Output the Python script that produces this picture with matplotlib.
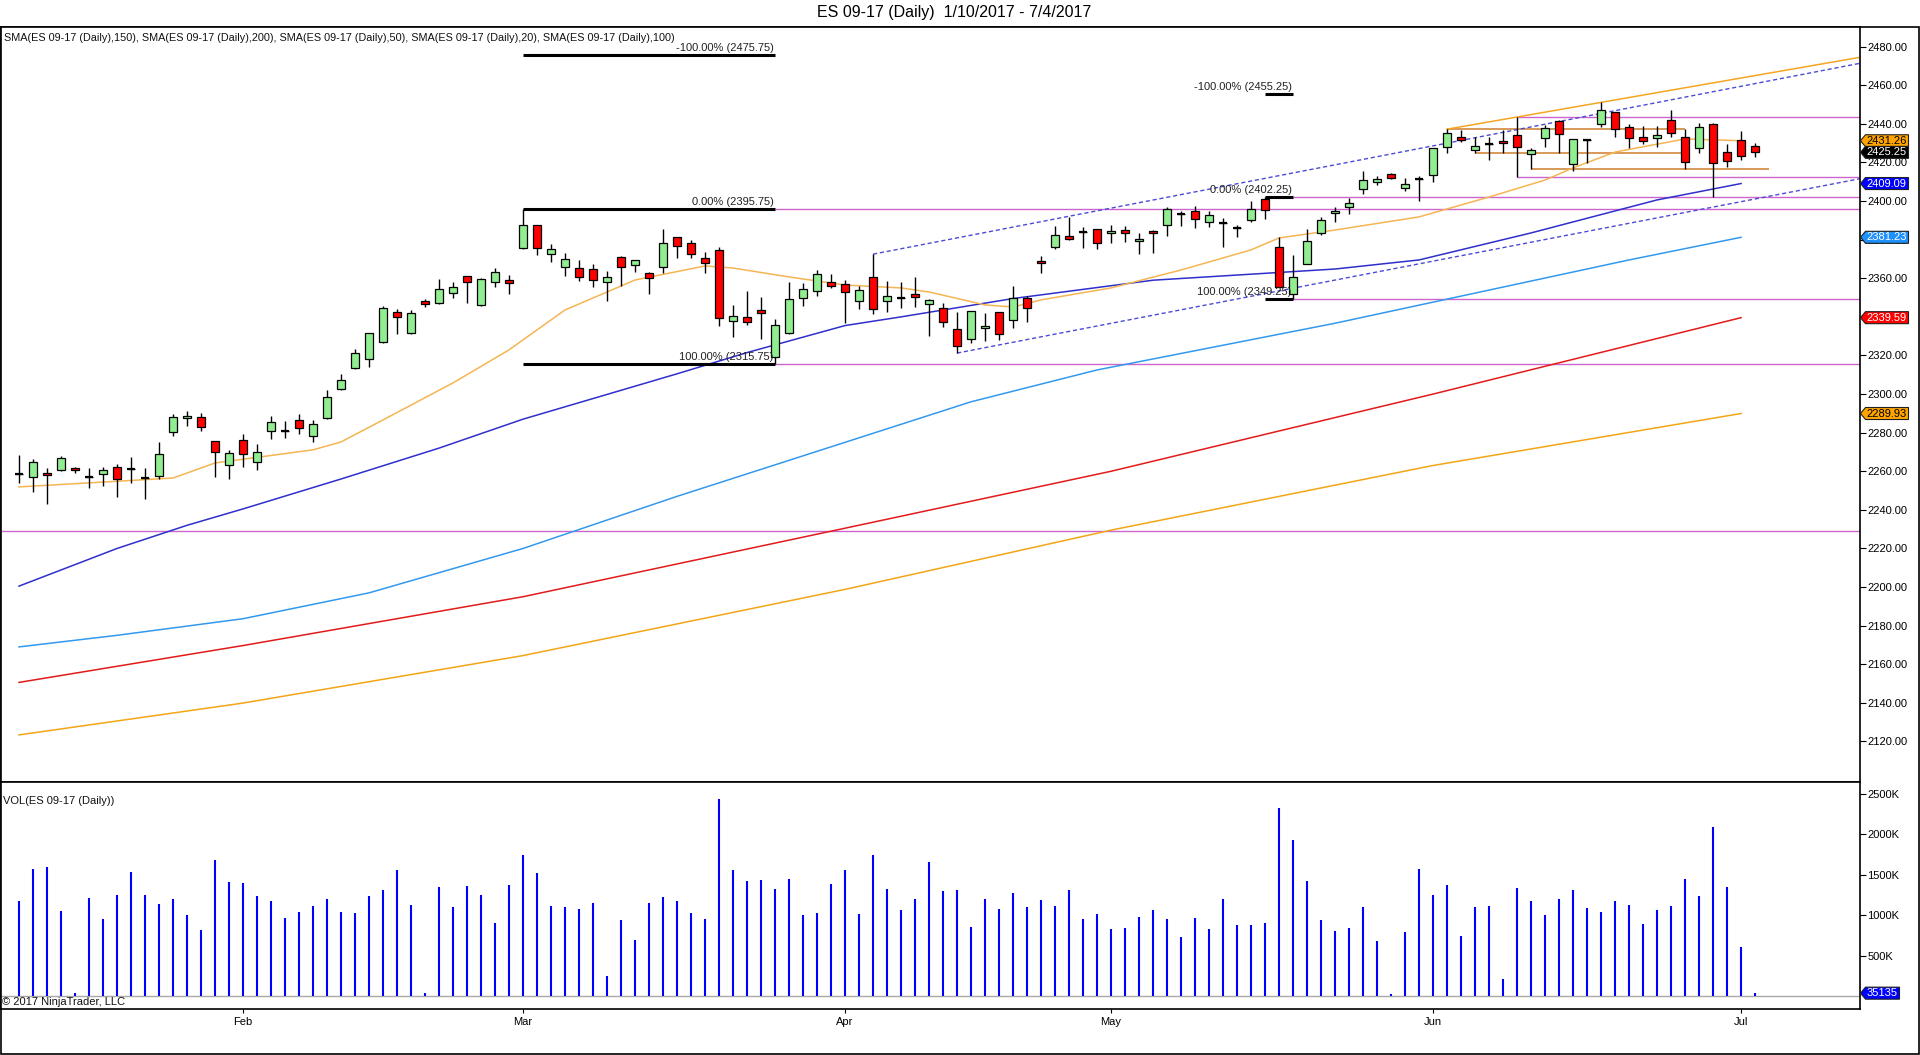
import matplotlib
matplotlib.use('Agg')
import matplotlib.pyplot as plt
import matplotlib.transforms as mtransforms
from matplotlib.patches import Polygon, Rectangle
from matplotlib.ticker import FixedLocator, FuncFormatter
import numpy as np

# ---------------- data ----------------
opens = [2258.75, 2257.0, 2259.0, 2260.75, 2261.75, 2257.0, 2258.5, 2262.25, 2261.25, 2256.5,
         2257.5, 2280.5, 2287.5, 2288.0, 2275.75, 2263.25, 2276.25, 2264.75, 2281.0, 2281.0,
         2286.5, 2278.25, 2287.5, 2302.75, 2313.5, 2318.25, 2327.0, 2342.5, 2331.75, 2348.25,
         2347.25, 2352.5, 2361.25, 2346.25, 2358.0, 2359.0, 2375.75, 2387.5, 2372.5, 2366.0,
         2365.25, 2364.75, 2358.0, 2371.0, 2367.0, 2362.75, 2366.0, 2381.5, 2378.25, 2370.5,
         2374.75, 2338.0, 2340.0, 2343.5, 2319.25, 2331.75, 2349.75, 2353.5, 2358.0, 2357.0,
         2348.25, 2360.75, 2348.25, 2349.75, 2352.0, 2346.75, 2344.5, 2333.75, 2328.5, 2334.25,
         2342.5, 2338.5, 2349.75, 2369.0, 2376.25, 2382.0, 2384.0, 2385.5, 2383.5, 2385.0,
         2379.25, 2384.5, 2387.5, 2393.25, 2395.0, 2389.25, 2388.75, 2386.0, 2390.25, 2401.0,
         2376.25, 2352.0, 2367.5, 2383.5, 2393.75, 2397.0, 2406.25, 2410.0, 2414.0, 2406.75,
         2411.5, 2413.5, 2428.0, 2433.25, 2426.5, 2429.5, 2431.0, 2434.25, 2424.5, 2432.75,
         2441.5, 2419.25, 2431.75, 2440.0, 2446.25, 2438.5, 2433.25, 2432.75, 2442.0, 2433.25,
         2427.5, 2440.0, 2425.5, 2431.75, 2428.5]
highs = [2268.5, 2266.5, 2261.75, 2268.0, 2262.25, 2261.75, 2262.25, 2263.75, 2267.5, 2261.75,
         2275.25, 2289.75, 2291.25, 2290.25, 2275.75, 2271.0, 2279.25, 2274.0, 2288.75, 2286.0,
         2289.75, 2286.5, 2302.0, 2310.5, 2323.5, 2331.75, 2345.75, 2344.0, 2343.5, 2349.25,
         2359.5, 2358.0, 2361.25, 2360.25, 2365.25, 2361.75, 2395.75, 2387.5, 2377.75, 2373.0,
         2369.5, 2367.5, 2363.75, 2371.5, 2369.5, 2363.25, 2385.5, 2381.5, 2380.0, 2373.5,
         2376.25, 2346.25, 2353.5, 2350.25, 2339.0, 2358.0, 2357.5, 2364.25, 2362.0, 2359.0,
         2356.0, 2372.5, 2358.5, 2358.0, 2360.75, 2349.25, 2347.25, 2342.5, 2343.0, 2342.0,
         2342.5, 2356.0, 2350.75, 2371.5, 2387.0, 2391.75, 2386.5, 2385.5, 2387.5, 2387.0,
         2383.5, 2385.0, 2397.0, 2395.0, 2397.5, 2395.0, 2391.25, 2387.5, 2400.0, 2402.25,
         2381.5, 2372.0, 2385.5, 2391.75, 2397.0, 2401.5, 2415.5, 2413.0, 2414.5, 2412.0,
         2413.0, 2427.5, 2437.25, 2436.75, 2433.25, 2433.25, 2436.75, 2443.5, 2427.5, 2439.5,
         2442.0, 2432.25, 2432.25, 2451.5, 2446.25, 2440.0, 2439.0, 2439.0, 2447.25, 2437.5,
         2440.5, 2440.5, 2429.5, 2436.25, 2430.0]
lows = [2254.0, 2249.25, 2243.0, 2260.25, 2259.0, 2251.5, 2252.5, 2246.75, 2254.0, 2245.75,
        2256.0, 2278.25, 2283.5, 2281.0, 2257.0, 2256.0, 2262.25, 2260.75, 2276.75, 2277.25,
        2279.25, 2275.25, 2287.0, 2302.0, 2313.0, 2314.0, 2326.5, 2331.25, 2331.25, 2345.0,
        2346.75, 2349.75, 2347.25, 2345.75, 2355.5, 2352.0, 2375.25, 2372.0, 2368.5, 2361.25,
        2358.5, 2355.5, 2348.25, 2356.0, 2363.25, 2352.0, 2362.75, 2370.5, 2370.5, 2362.75,
        2335.25, 2329.5, 2335.75, 2328.5, 2315.75, 2331.25, 2345.75, 2350.75, 2355.0, 2337.0,
        2344.0, 2341.5, 2342.5, 2344.5, 2345.0, 2330.0, 2334.75, 2321.25, 2326.5, 2327.5,
        2328.0, 2334.25, 2337.5, 2362.75, 2375.25, 2380.0, 2375.75, 2375.25, 2378.25, 2378.75,
        2372.5, 2373.0, 2382.0, 2387.0, 2386.0, 2386.5, 2376.25, 2381.5, 2389.25, 2390.75,
        2355.5, 2349.25, 2367.25, 2382.5, 2389.25, 2393.25, 2403.75, 2408.5, 2411.5, 2405.25,
        2400.0, 2410.0, 2424.75, 2430.5, 2424.75, 2421.25, 2424.75, 2412.25, 2416.5, 2428.0,
        2424.75, 2415.5, 2419.75, 2438.5, 2433.25, 2427.5, 2429.5, 2428.0, 2433.25, 2416.5,
        2425.0, 2402.0, 2417.75, 2421.25, 2423.0]
closes = [2258.75, 2264.75, 2258.0, 2267.0, 2260.75, 2257.0, 2260.75, 2256.0, 2261.25, 2256.5,
          2269.0, 2288.0, 2288.75, 2283.0, 2270.0, 2269.5, 2269.0, 2270.0, 2285.5, 2281.0,
          2282.5, 2284.5, 2298.5, 2307.25, 2321.25, 2331.75, 2344.5, 2340.0, 2342.0, 2346.75,
          2354.5, 2355.5, 2358.0, 2359.75, 2363.25, 2357.5, 2387.5, 2375.75, 2375.25, 2370.0,
          2360.75, 2359.0, 2360.75, 2366.0, 2369.5, 2360.25, 2378.25, 2376.75, 2372.5, 2368.0,
          2339.5, 2340.5, 2337.5, 2342.0, 2335.75, 2349.25, 2354.5, 2362.25, 2356.0, 2353.0,
          2354.0, 2344.0, 2351.0, 2349.75, 2350.25, 2348.75, 2337.5, 2325.0, 2343.0, 2335.25,
          2331.25, 2349.75, 2344.5, 2368.0, 2382.5, 2380.5, 2384.0, 2378.25, 2384.5, 2383.5,
          2380.5, 2383.5, 2396.0, 2393.25, 2390.75, 2392.75, 2388.75, 2386.0, 2396.0, 2395.5,
          2355.5, 2360.75, 2379.25, 2390.25, 2395.0, 2399.0, 2411.0, 2411.5, 2412.0, 2409.0,
          2411.5, 2427.5, 2435.25, 2431.75, 2428.5, 2429.5, 2430.0, 2428.0, 2426.5, 2438.0,
          2434.75, 2432.25, 2431.75, 2447.25, 2437.5, 2432.75, 2431.0, 2434.25, 2435.25, 2420.25,
          2438.5, 2419.75, 2420.75, 2423.5, 2425.25]
volume_k = [1175, 1570, 1595, 1051, 37, 1212, 952, 1249, 1533, 1249,
            1138, 1200, 1002, 816, 1682, 1410, 1397, 1237, 1175, 965,
            1039, 1113, 1200, 1039, 1026, 1237, 1311, 1558, 1125, 37,
            1348, 1101, 1360, 1249, 903, 1373, 1744, 1521, 1113, 1101,
            1076, 1150, 247, 940, 692, 1150, 1224, 1175, 1026, 952,
            2436, 1558, 1422, 1434, 1323, 1447, 1002, 1026, 1385, 1558,
            1014, 1744, 1323, 1063, 1200, 1657, 1298, 1311, 853, 1200,
            1076, 1274, 1101, 1187, 1113, 1311, 952, 1014, 829, 841,
            977, 1063, 952, 730, 965, 829, 1200, 878, 878, 903,
            2325, 1929, 1422, 940, 804, 841, 1101, 680, 25, 791,
            1570, 1249, 1373, 742, 1101, 1113, 210, 1336, 1175, 1002,
            1200, 1311, 1088, 1039, 1175, 1125, 890, 1063, 1113, 1447,
            1237, 2090, 1348, 606, 35.135]

month_labels = ['Feb', 'Mar', 'Apr', 'May', 'Jun', 'Jul']
month_idx = [16, 36, 59, 78, 101, 123]

sma20_idx = [0, 11, 14, 21, 23, 26, 31, 35, 39, 44, 49, 51, 55, 59, 63, 65, 69, 71, 73, 78,
             83, 88, 90, 94, 100, 105, 109, 111, 114, 119, 123]
sma20_val = [2251.9, 2256.5, 2264.3, 2271.1, 2275.2, 2286.6, 2305.8, 2322.9, 2343.6, 2359.1,
             2366.4, 2365.3, 2360.7, 2356.5, 2355.0, 2352.9, 2346.2, 2345.1, 2348.8, 2355.0,
             2364.3, 2374.7, 2380.9, 2385.0, 2391.8, 2402.1, 2410.9, 2417.2, 2425.4, 2432.2, 2431.26]
sma50_idx = [0, 7, 12, 16, 23, 30, 36, 47, 52, 59, 63, 71, 81, 94, 100, 108, 117, 123]
sma50_val = [2200.5, 2220.0, 2232.0, 2240.5, 2256.0, 2272.0, 2287.0, 2310.5, 2321.5, 2335.5,
             2340.0, 2349.5, 2359.0, 2364.8, 2369.5, 2383.5, 2400.6, 2409.09]
sma100_idx = [0, 7, 16, 25, 36, 47, 59, 68, 77, 94, 115, 123]
sma100_val = [2169.0, 2175.0, 2183.6, 2197.0, 2220.0, 2247.0, 2275.0, 2296.0, 2312.5, 2336.7,
              2369.5, 2381.23]
sma150_idx = [0, 16, 36, 59, 78, 101, 123]
sma150_val = [2150.6, 2169.7, 2195.0, 2230.5, 2260.0, 2300.0, 2339.59]
sma200_idx = [0, 16, 36, 59, 78, 101, 123]
sma200_val = [2123.4, 2139.9, 2164.5, 2198.8, 2229.5, 2263.0, 2289.93]

# Fibonacci retracements (start bar, end bar, -100%, 0%, 100%)
fib_start = [36, 89]
fib_end = [54, 91]
fib_m100 = [2475.75, 2455.25]
fib_0 = [2395.75, 2402.25]
fib_100 = [2315.75, 2349.25]

# pink extension lines (start bar, price)
pink_start = [54, 54, 91, 91, 107, 107, -1.3]
pink_price = [2395.75, 2315.75, 2402.25, 2349.25, 2443.5, 2412.25, 2229.25]

# orange horizontal lines
orng_start = [102, 104, 108]
orng_end = [119, 119, 125]
orng_price = [2437.25, 2424.75, 2416.5]

# trend lines
trend_x = [102, 131.5]
trend_y = [2437.25, 2474.5]
chan_up_x = [61, 131.5]
chan_up_y = [2372.5, 2471.4]
chan_lo_x = [67, 131.5]
chan_lo_y = [2321.25, 2411.6]

price_ticks = list(range(2120, 2481, 20))
vol_ticks = [500, 1000, 1500, 2000, 2500]

box_vals = [2431.26, 2425.25, 2409.09, 2381.23, 2339.59, 2289.93]
box_fc = ['#FFA500', '#000000', '#0000FF', '#1E90FF', '#FF0000', '#FFA500']
box_tc = ['black', 'white', 'white', 'white', 'white', 'black']
vol_last_k = 35.135
vol_last_label = '35135'

legend_text = ('SMA(ES 09-17 (Daily),150), SMA(ES 09-17 (Daily),200), SMA(ES 09-17 (Daily),50), '
               'SMA(ES 09-17 (Daily),20), SMA(ES 09-17 (Daily),100)')
title_text = 'ES 09-17 (Daily)  1/10/2017 - 7/4/2017'

# ---------------- layout ----------------
plt.rcParams['font.family'] = ['Liberation Sans', 'DejaVu Sans']
W, H = 1920, 1055
fig = plt.figure(figsize=(W / 100, H / 100), dpi=100)
fig.patch.set_facecolor('white')


def fx(px):
    return px / W


def fy(py):
    return 1 - py / H


XL, XR = -1.286, 131.46
PY0, PY1 = 2099.0, 2490.2
VY0, VY1 = -160.9, 2648.5

ax = fig.add_axes([fx(1), fy(782), fx(1859.5) - fx(1), fy(27) - fy(782)])
axv = fig.add_axes([fx(1), fy(1009), fx(1859.5) - fx(1), fy(782) - fy(1009)])
for a in (ax, axv):
    a.set_facecolor('white')
    for s in a.spines.values():
        s.set_color('black')
        s.set_linewidth(1.2)

# ---------------- candles ----------------
n = len(opens)
idx = np.arange(n)
o = np.array(opens)
hi = np.array(highs)
lo = np.array(lows)
c = np.array(closes)
up = c >= o
ax.vlines(idx, lo, hi, colors='black', linewidth=1.0, zorder=4)
ax.bar(idx, np.abs(c - o), bottom=np.minimum(o, c), width=0.57,
       color=np.where(up, '#90EE90', '#FF0000'), edgecolor='black', linewidth=0.9, zorder=5)
doji = np.abs(c - o) < 0.01
ax.hlines(o[doji], idx[doji] - 0.29, idx[doji] + 0.29, colors='black', linewidth=1.6, zorder=5)

# ---------------- SMAs ----------------
ax.plot(sma200_idx, sma200_val, color='#F2A516', lw=1.1, zorder=3)
ax.plot(sma150_idx, sma150_val, color='#E31A1A', lw=1.1, zorder=3)
ax.plot(sma100_idx, sma100_val, color='#3399EE', lw=1.1, zorder=3)
ax.plot(sma50_idx, sma50_val, color='#2F2FCC', lw=1.1, zorder=3)
ax.plot(sma20_idx, sma20_val, color='#F5B553', lw=1.1, zorder=3)

# ---------------- drawings ----------------
ax.hlines(pink_price, pink_start, XR, colors='#CC66CC', linewidth=1.0, zorder=2)
ax.hlines(orng_price, orng_start, orng_end, colors='#D2883C', linewidth=1.2, zorder=2)
ax.plot(trend_x, trend_y, color='#F5A623', lw=1.1, zorder=2)
ax.plot(chan_up_x, chan_up_y, color='#4B4BD6', lw=1.0, ls=(0, (3, 2)), zorder=2)
ax.plot(chan_lo_x, chan_lo_y, color='#4B4BD6', lw=1.0, ls=(0, (3, 2)), zorder=2)

for s, e, m100, z, h100 in zip(fib_start, fib_end, fib_m100, fib_0, fib_100):
    ax.hlines([m100, z, h100], s, e, colors='black', linewidth=2.2, zorder=6)
    for pct, lev in (('-100.00%', m100), ('0.00%', z), ('100.00%', h100)):
        ax.annotate(f'{pct} ({lev:.2f})', xy=(e, lev), xytext=(-1, 1.5),
                    textcoords='offset points', ha='right', va='bottom',
                    fontsize=8, color='#222222', zorder=7)

# ---------------- volume ----------------
axv.axhline(0, color='#A8A8A8', lw=1.0, zorder=1)
axv.vlines(idx, 0, volume_k, colors='#0000FF', linewidth=1.5, zorder=3)

# ---------------- axes ----------------
ax.set_xlim(XL, XR)
axv.set_xlim(XL, XR)
ax.set_ylim(PY0, PY1)
axv.set_ylim(VY0, VY1)

ax.yaxis.tick_right()
ax.yaxis.set_major_locator(FixedLocator(price_ticks))
ax.yaxis.set_major_formatter(FuncFormatter(lambda v, p: f'{v:.2f}'))
ax.tick_params(axis='y', direction='out', length=4.3, width=0.8, pad=1.5, labelsize=8, colors='black')
ax.tick_params(axis='x', bottom=False, labelbottom=False)

axv.yaxis.tick_right()
axv.yaxis.set_major_locator(FixedLocator(vol_ticks))
axv.yaxis.set_major_formatter(FuncFormatter(lambda v, p: f'{int(v)}K'))
axv.tick_params(axis='y', direction='out', length=4.3, width=0.8, pad=1.5, labelsize=8)
axv.xaxis.set_major_locator(FixedLocator(month_idx))
axv.set_xticklabels(month_labels)
axv.tick_params(axis='x', direction='out', length=3, width=0.8, pad=2.5, labelsize=8)

# ---------------- value boxes ----------------
bt = mtransforms.blended_transform_factory(fig.transFigure, ax.transData)
half = 6 / 1.930
for v, fc, tc in zip(box_vals, box_fc, box_tc):
    poly = Polygon([(fx(1860.5), v), (fx(1865.5), v + half), (fx(1908.5), v + half),
                    (fx(1908.5), v - half), (fx(1865.5), v - half)], closed=True,
                   transform=bt, facecolor=fc, edgecolor='#202020', lw=0.8, zorder=10)
    fig.add_artist(poly)
    fig.text(fx(1866.5), v, f'{v:.2f}', transform=bt, ha='left', va='center',
             fontsize=8, color=tc, zorder=11)

btv = mtransforms.blended_transform_factory(fig.transFigure, axv.transData)
halfv = 6 / 0.0808
polyv = Polygon([(fx(1860.5), vol_last_k), (fx(1865.5), vol_last_k + halfv),
                 (fx(1899.5), vol_last_k + halfv), (fx(1899.5), vol_last_k - halfv),
                 (fx(1865.5), vol_last_k - halfv)], closed=True,
                transform=btv, facecolor='#0000FF', edgecolor='#202020', lw=0.8, zorder=10)
fig.add_artist(polyv)
fig.text(fx(1866.5), vol_last_k, vol_last_label, transform=btv, ha='left', va='center',
         fontsize=8, color='white', zorder=11)

# ---------------- texts ----------------
fig.text(fx(954), fy(13), title_text, ha='center', va='center', fontsize=11.5, color='black')
fig.text(fx(4), fy(38), legend_text, ha='left', va='center', fontsize=7.8, color='#111111')
fig.text(fx(3), fy(801), 'VOL(ES 09-17 (Daily))', ha='left', va='center', fontsize=8, color='#111111')
fig.text(fx(2), fy(1002), '\u00a9 2017 NinjaTrader, LLC', ha='left', va='center', fontsize=8, color='#111111')

# outer frame
fig.add_artist(Rectangle((fx(0.5), fy(1053.5)), fx(1919) - fx(0.5), fy(27) - fy(1053.5),
                         transform=fig.transFigure, fill=False, edgecolor='black', lw=1.2, zorder=0))

fig.savefig('out.png', dpi=100, facecolor='white')
